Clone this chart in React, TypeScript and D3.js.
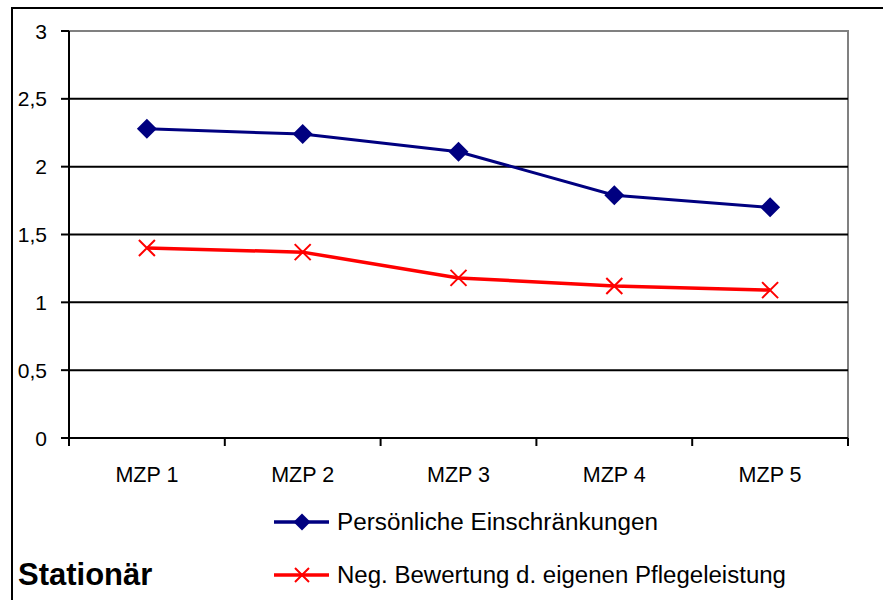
import * as d3 from 'd3';

const categories = ['MZP 1', 'MZP 2', 'MZP 3', 'MZP 4', 'MZP 5'];
const persoenlich = [2.28, 2.24, 2.11, 1.79, 1.7];
const negBewertung = [1.4, 1.37, 1.18, 1.12, 1.09];
const yTicks = [0, 0.5, 1, 1.5, 2, 2.5, 3];
const seriesNames = ['Persönliche Einschränkungen', 'Neg. Bewertung d. eigenen Pflegeleistung'];

const FONT = '"Liberation Sans", Arial, sans-serif';

export default function App() {
  const left = 69;
  const right = 848;
  const top = 31;
  const bottom = 438;

  const x = d3.scaleBand().domain(categories).range([left, right]);
  const y = d3.scaleLinear().domain([0, 3]).range([bottom, top]);
  const cx = (c: string) => (x(c) || 0) + x.bandwidth() / 2;

  const line = d3.line<number>()
    .x((_, i) => cx(categories[i]))
    .y(d => y(d));

  const diamond = (px: number, py: number, r: number) =>
    `M${px},${py - r}L${px + r},${py}L${px},${py + r}L${px - r},${py}Z`;
  const cross = (px: number, py: number, r: number) =>
    `M${px - r},${py - r}L${px + r},${py + r}M${px - r},${py + r}L${px + r},${py - r}`;

  return (
    <svg width={883} height={600} style={{ position: 'absolute', left: 0, top: 0, background: '#fff' }}>
      <rect x={12} y={8} width={900} height={620} fill="#fff" stroke="#000" strokeWidth={2} />

      {/* plot area */}
      <rect x={left} y={top} width={right - left} height={bottom - top} fill="none" stroke="#808080" strokeWidth={2} />
      {yTicks.filter(t => t > 0 && t < 3).map(t => (
        <line key={t} x1={left} x2={right} y1={y(t)} y2={y(t)} stroke="#000" strokeWidth={2} />
      ))}
      <line x1={left} x2={right} y1={bottom} y2={bottom} stroke="#000" strokeWidth={2} />
      <line x1={left} x2={left} y1={top} y2={bottom} stroke="#000" strokeWidth={2} />

      {yTicks.map(t => (
        <g key={t}>
          <line x1={61} x2={left} y1={y(t)} y2={y(t)} stroke="#000" strokeWidth={2} />
          <text x={47} y={y(t)} dy="0.36em" textAnchor="end" fontFamily={FONT} fontSize={21}>
            {String(t).replace('.', ',')}
          </text>
        </g>
      ))}

      {categories.map((c, i) => (
        <line key={'t' + i} x1={x(c) || 0} x2={x(c) || 0} y1={bottom} y2={bottom + 8} stroke="#000" strokeWidth={2} />
      ))}
      <line x1={right} x2={right} y1={bottom} y2={bottom + 8} stroke="#000" strokeWidth={2} />
      {categories.map(c => (
        <text key={c} x={cx(c)} y={482} textAnchor="middle" fontFamily={FONT} fontSize={21.5} textLength={63} lengthAdjust="spacingAndGlyphs">{c}</text>
      ))}

      <path d={line(persoenlich) || ''} fill="none" stroke="#000080" strokeWidth={3} />
      {persoenlich.map((v, i) => (
        <path key={'d' + i} d={diamond(cx(categories[i]), y(v), 10)} fill="#000080" />
      ))}
      <path d={line(negBewertung) || ''} fill="none" stroke="#ff0000" strokeWidth={3.5} />
      {negBewertung.map((v, i) => (
        <path key={'x' + i} d={cross(cx(categories[i]), y(v), 8)} fill="none" stroke="#ff0000" strokeWidth={2} />
      ))}

      {/* legend */}
      <line x1={274} x2={329} y1={522} y2={522} stroke="#000080" strokeWidth={3.5} />
      <path d={diamond(302, 522, 8.5)} fill="#000080" />
      <text x={337} y={530} fontFamily={FONT} fontSize={23} textLength={321} lengthAdjust="spacingAndGlyphs">{seriesNames[0]}</text>
      <line x1={274} x2={329} y1={575} y2={575} stroke="#ff0000" strokeWidth={3.5} />
      <path d={cross(302, 575, 7)} fill="none" stroke="#ff0000" strokeWidth={2} />
      <text x={337} y={583} fontFamily={FONT} fontSize={23} textLength={449} lengthAdjust="spacingAndGlyphs">{seriesNames[1]}</text>

      <text x={18} y={585} fontFamily={FONT} fontSize={31} fontWeight="bold">Stationär</text>
    </svg>
  );
}
